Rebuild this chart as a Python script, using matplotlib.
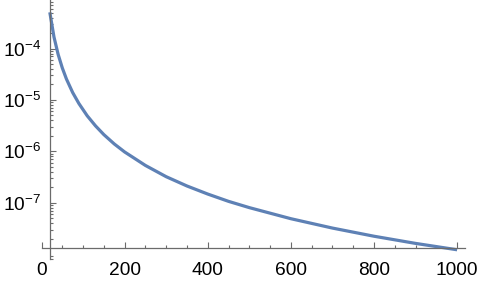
import numpy as np
import matplotlib.pyplot as plt
from matplotlib.ticker import LogLocator, MultipleLocator, FixedLocator

plt.rcParams['font.family'] = ['Liberation Sans', 'DejaVu Sans']
plt.rcParams['mathtext.default'] = 'regular'

# values
x_vals = [20, 30, 40, 50, 60, 75, 90, 110, 130, 150, 175, 200, 250, 300,
          350, 400, 450, 500, 600, 700, 800, 900, 1000]
y_vals = [5.07e-4, 1.68e-4, 7.7e-5, 4.2e-5, 2.55e-5, 1.39e-5, 8.5e-6,
          4.9e-6, 3.12e-6, 2.11e-6, 1.39e-6, 9.7e-7, 5.3e-7, 3.2e-7,
          2.11e-7, 1.47e-7, 1.06e-7, 8.0e-8, 4.87e-8, 3.2e-8, 2.22e-8,
          1.61e-8, 1.21e-8]

x_ticks = [0, 200, 400, 600, 800, 1000]
y_ticks = [1e-7, 1e-6, 1e-5, 1e-4]

axis_col = '#6b6b6b'

fig = plt.figure(figsize=(4.82, 2.81), dpi=100)
ax = fig.add_axes([41.5 / 482, 22 / 281, (465 - 41.5) / 482, 259 / 281])

ax.plot(x_vals, y_vals, color='#5e81b5', lw=2.3, clip_on=False,
        solid_capstyle='butt')

ax.set_yscale('log')
ax.set_xlim(0, 1019)
ax.set_ylim(8.0e-9, 8.8e-4)

# Mathematica-style crossing axes
for s in ['top', 'right']:
    ax.spines[s].set_visible(False)
ax.spines['left'].set_position(('data', 20))
ax.spines['bottom'].set_position(('data', 1.29e-8))
for s in ['left', 'bottom']:
    ax.spines[s].set_color(axis_col)
    ax.spines[s].set_linewidth(0.9)

ax.xaxis.set_major_locator(FixedLocator(x_ticks))
ax.xaxis.set_minor_locator(MultipleLocator(50))
ax.yaxis.set_major_locator(FixedLocator(y_ticks))
ax.yaxis.set_minor_locator(LogLocator(base=10, subs=np.arange(2, 10)))
ax.set_xticklabels([str(t) for t in x_ticks])

ax.tick_params(which='both', direction='in', color=axis_col, width=0.8,
               labelcolor='black')
ax.tick_params(axis='x', labelsize=13.8, pad=10)
ax.tick_params(axis='y', labelsize=13.8, pad=6)
ax.tick_params(which='major', length=4)
ax.tick_params(which='minor', length=2.2)

fig.savefig('out.png', dpi=100)
